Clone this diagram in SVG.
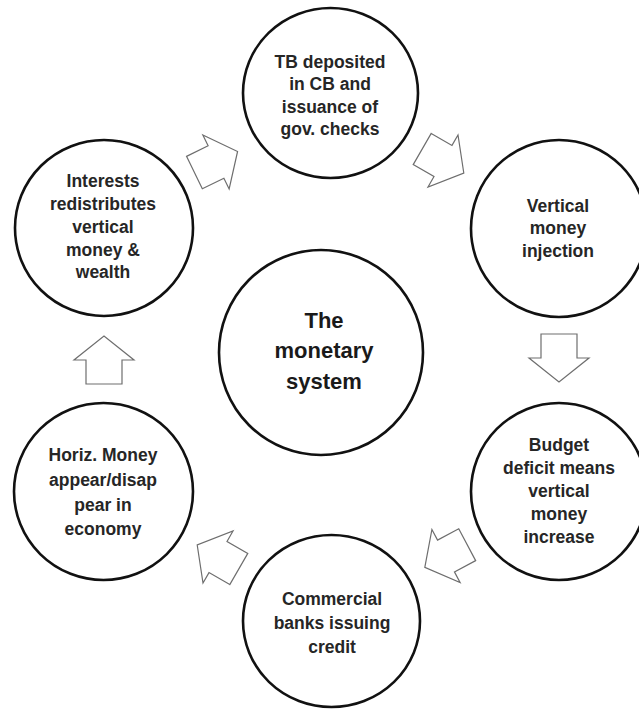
<svg xmlns="http://www.w3.org/2000/svg" xmlns:xlink="http://www.w3.org/1999/xlink" width="639" height="711" viewBox="0 0 639 711">
  <style>
    .node { fill: #ffffff; stroke: #111111; stroke-width: 2.6; }
    .lbl { font-family: "Liberation Sans", Arial, sans-serif; font-weight: bold; font-size: 17.5px; fill: #262626; text-anchor: middle; }
    .hub { font-size: 22px; fill: #1a1a1a; }
    .arrow { fill: #ffffff; stroke: #6e6e6e; stroke-width: 1.2; stroke-linejoin: miter; }
  </style>
  <defs>
    <!-- block arrow pointing along +x, origin at the base of the head -->
    <path id="blockArrow" d="M -24 -18 L 0 -18 L 0 -30 L 24 0 L 0 30 L 0 18 L -24 18 Z"/>
  </defs>

  <rect x="0" y="0" width="639" height="711" fill="#ffffff"/>

  <!-- cycle arrows -->
  <g id="connectors">
    <use xlink:href="#blockArrow" class="arrow" transform="translate(216 162) rotate(-26)"/>
    <use xlink:href="#blockArrow" class="arrow" transform="translate(443 161) rotate(30)"/>
    <use xlink:href="#blockArrow" class="arrow" transform="translate(559 358) rotate(90)"/>
    <use xlink:href="#blockArrow" class="arrow" transform="translate(446 556) rotate(152)"/>
    <use xlink:href="#blockArrow" class="arrow" transform="translate(218 557) rotate(210)"/>
    <use xlink:href="#blockArrow" class="arrow" transform="translate(104 360) rotate(-90)"/>
  </g>

  <g id="hub">
    <ellipse class="node" cx="321" cy="352.5" rx="102" ry="102.5"/>
    <text class="lbl hub" x="324" y="328">The</text>
    <text class="lbl hub" x="324" y="358">monetary</text>
    <text class="lbl hub" x="324" y="389">system</text>
  </g>

  <g id="tb-deposited">
    <ellipse class="node" cx="330.5" cy="93" rx="87.5" ry="85"/>
    <text class="lbl" x="330" y="68">TB deposited</text>
    <text class="lbl" x="330" y="90">in CB and</text>
    <text class="lbl" x="330" y="113">issuance of</text>
    <text class="lbl" x="330" y="135">gov. checks</text>
  </g>

  <g id="vertical-injection">
    <ellipse class="node" cx="559" cy="228.5" rx="88" ry="88.5"/>
    <text class="lbl" x="558" y="212">Vertical</text>
    <text class="lbl" x="558" y="234">money</text>
    <text class="lbl" x="558" y="257">injection</text>
  </g>

  <g id="budget-deficit">
    <ellipse class="node" cx="559" cy="491.5" rx="88" ry="88.5"/>
    <text class="lbl" x="559" y="451">Budget</text>
    <text class="lbl" x="559" y="474">deficit means</text>
    <text class="lbl" x="559" y="497">vertical</text>
    <text class="lbl" x="559" y="520">money</text>
    <text class="lbl" x="559" y="543">increase</text>
  </g>

  <g id="commercial-banks">
    <ellipse class="node" cx="331.5" cy="621" rx="88.5" ry="86"/>
    <text class="lbl" x="332" y="605">Commercial</text>
    <text class="lbl" x="332" y="629">banks issuing</text>
    <text class="lbl" x="332" y="653">credit</text>
  </g>

  <g id="horizontal-money">
    <ellipse class="node" cx="103.5" cy="491.5" rx="89.5" ry="88.5"/>
    <text class="lbl" x="103" y="461">Horiz. Money</text>
    <text class="lbl" x="103" y="486">appear/disap</text>
    <text class="lbl" x="103" y="511">pear in</text>
    <text class="lbl" x="103" y="535">economy</text>
  </g>

  <g id="interests">
    <ellipse class="node" cx="104" cy="228" rx="89" ry="88"/>
    <text class="lbl" x="103" y="187">Interests</text>
    <text class="lbl" x="103" y="210">redistributes</text>
    <text class="lbl" x="103" y="233">vertical</text>
    <text class="lbl" x="103" y="256">money &amp;</text>
    <text class="lbl" x="103" y="278">wealth</text>
  </g>
</svg>
